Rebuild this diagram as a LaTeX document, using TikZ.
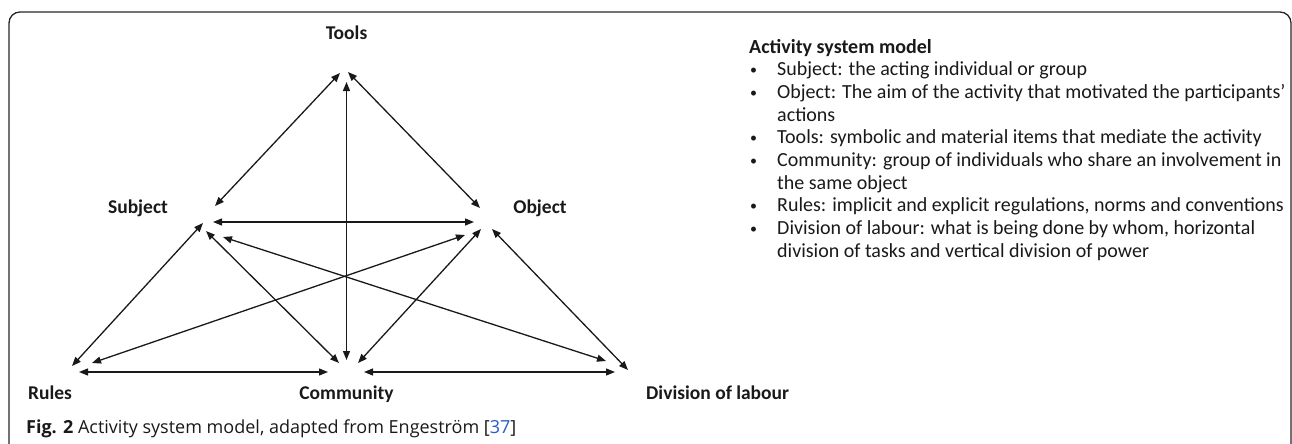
\documentclass[tikz,border=0pt]{standalone}
\usepackage{fontspec}
\setmainfont{Carlito}
\newfontfamily\capfont{Open Sans}
\usetikzlibrary{arrows.meta}
\definecolor{linkblue}{RGB}{40,90,200}
\definecolor{ink}{RGB}{25,25,25}
\begin{document}
\begin{tikzpicture}[x=1pt,y=-1pt,
  lab/.style={font=\fontsize{19.5}{23}\selectfont\bfseries, inner sep=0pt, text=ink, anchor=base},
  link/.style={line width=1.3pt, draw=ink, {Triangle[length=9pt,width=7pt]}-{Triangle[length=9pt,width=7pt]}},
  txt/.style={font=\fontsize{20}{23}\selectfont, anchor=base west, inner sep=0pt, text=ink},
  bul/.style={font=\fontsize{14}{16}\selectfont, anchor=base west, inner sep=0pt, text=ink},
  ]
\useasboundingbox (0,0) rectangle (1292,444);
\draw[line width=1.3pt, rounded corners=11pt, draw=black!85] (9,470) -- (9,12) -- (1291,12) -- (1291,470);

% labels
\node[lab] (tools) at (346.5,40) {Tools};
\node[lab] (subject) at (138,213) {Subject};
\node[lab] (object) at (540,213) {Object};
\node[lab] (rules) at (50,399) {Rules};
\node[lab] (community) at (346.5,399) {Community};
\node[lab, anchor=base west] (division) at (646,399) {Division of labour};

% arrow end points
\coordinate (ts-t) at (340,73);
\coordinate (ts-s) at (215,206);
\coordinate (to-t) at (348,72);
\coordinate (to-o) at (480,208);
\coordinate (tc-t) at (346.5,82);
\coordinate (tc-c) at (346.5,360);
\coordinate (so-s) at (213,222);
\coordinate (so-o) at (474,222);
\coordinate (rs-s) at (203,223);
\coordinate (rs-r) at (72,366);
\coordinate (sc-s) at (206,231);
\coordinate (sc-c) at (339,363);
\coordinate (sd-s) at (223,237);
\coordinate (sd-d) at (606,361);
\coordinate (ro-r) at (92,363);
\coordinate (ro-o) at (465,235);
\coordinate (co-c) at (358,363);
\coordinate (co-o) at (481,229);
\coordinate (od-o) at (492,229);
\coordinate (od-d) at (628,370);
\coordinate (rc-r) at (79,372);
\coordinate (rc-c) at (328,372);
\coordinate (cd-c) at (364,372);
\coordinate (cd-d) at (615,372);

\draw[link] (ts-t) -- (ts-s);
\draw[link] (to-t) -- (to-o);
\draw[link] (tc-t) -- (tc-c);
\draw[link] (so-s) -- (so-o);
\draw[link] (rs-s) -- (rs-r);
\draw[link] (sc-s) -- (sc-c);
\draw[link] (sd-s) -- (sd-d);
\draw[link] (ro-r) -- (ro-o);
\draw[link] (co-c) -- (co-o);
\draw[link] (od-o) -- (od-d);
\draw[link] (rc-r) -- (rc-c);
\draw[link] (cd-c) -- (cd-d);

% right text
\node[txt, font=\fontsize{20}{23}\selectfont\bfseries] (h) at (749,53) {Activity system model};
\foreach \y/\t [count=\i] in {75.7/{Subject: the acting individual or group},
  98.4/{Object: The aim of the activity that motivated the participants’},
  143.8/{Tools: symbolic and material items that mediate the activity},
  166.5/{Community: group of individuals who share an involvement in},
  211.9/{Rules: implicit and explicit regulations, norms and conventions},
  234.6/{Division of labour: what is being done by whom, horizontal}}{
  \node[bul] (b\i) at (750,\y-1) {•};
  \node[txt] (l\i) at (777,\y) {\t};
}
\node[txt] (l2b) at (777,121.1) {actions};
\node[txt] (l4b) at (777,189.2) {the same object};
\node[txt] (l6b) at (777,257.3) {division of tasks and vertical division of power};

% caption
\node[anchor=base west, inner sep=0pt, font=\capfont\fontsize{18}{21}\selectfont, text=ink] (cap) at (26,433.5)
  {\textbf{Fig. 2} Activity system model, adapted from Engeström [{\color{linkblue}37}]};
\end{tikzpicture}
\end{document}
